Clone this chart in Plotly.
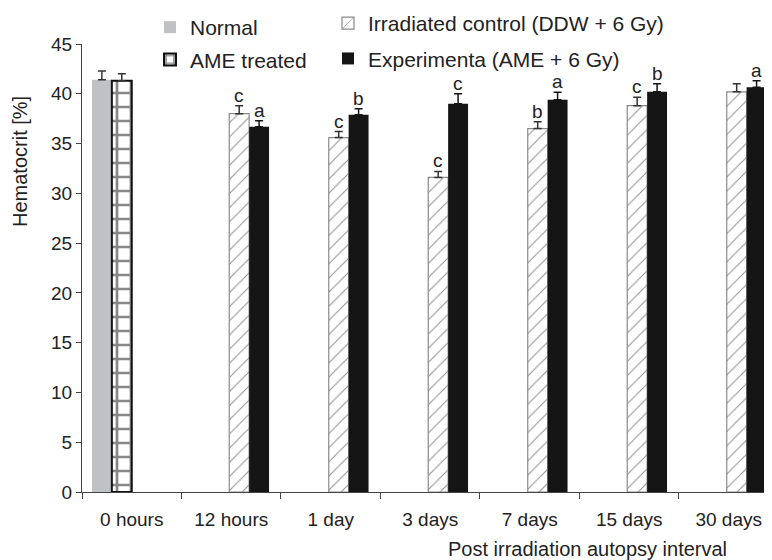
import plotly.graph_objects as go

# ---- data ----
categories = ["0 hours", "12 hours", "1 day", "3 days", "7 days", "15 days", "30 days"]

normal_x = ["0 hours"]
normal_vals = [41.4]
normal_err = [0.9]

ame_x = ["0 hours"]
ame_vals = [41.3]
ame_err = [0.7]

irr_x = ["12 hours", "1 day", "3 days", "7 days", "15 days", "30 days"]
irr_vals = [38.0, 35.6, 31.6, 36.5, 38.8, 40.2]
irr_err = [0.8, 0.6, 0.6, 0.7, 0.85, 0.8]
irr_labels = ["c", "c", "c", "b", "c", ""]

exp_x = ["12 hours", "1 day", "3 days", "7 days", "15 days", "30 days"]
exp_vals = [36.7, 37.9, 39.0, 39.4, 40.2, 40.65]
exp_err = [0.6, 0.6, 1.0, 0.75, 0.8, 0.65]
exp_labels = ["a", "b", "c", "a", "b", "a"]

y_ticks = [0, 5, 10, 15, 20, 25, 30, 35, 40, 45]

# ---- style / geometry ----
FONT = "Liberation Sans, Arial, sans-serif"
OX, OY = 8, 8                      # page body margin offset
W, H = 764, 552                    # figure size (visible window minus offset)
ML, MR, MT, MB = 74, 0, 36, 68
PLOT_W = W - ML - MR
PLOT_H = H - MT - MB
X_MIN, X_MAX = -0.5, 6.435
PX_PER_CAT = PLOT_W / (X_MAX - X_MIN)
BAR_W = 0.2
OFF = {"normal": -0.40, "ame": -0.20, "irr": -0.02, "exp": 0.18}
AXIS_COLOR = "#444444"
TEXT_COLOR = "#222222"


def px(sx):
    return (sx - OX - ML) / PLOT_W


def py(sy):
    return (H - MB - (sy - OY)) / PLOT_H


def err(arr, color):
    return dict(type="data", array=arr, arrayminus=[0] * len(arr), symmetric=False,
                color=color, thickness=1.5, width=4)


fig = go.Figure()

fig.add_trace(go.Bar(
    x=normal_x, y=normal_vals, name="Normal", width=BAR_W, offset=OFF["normal"],
    marker=dict(color="#c0c1c5", line=dict(width=0)),
    error_y=err(normal_err, "#333333"), legend="legend"))

fig.add_trace(go.Bar(
    x=ame_x, y=ame_vals, name="AME treated", width=BAR_W, offset=OFF["ame"],
    marker=dict(color="white", line=dict(color="#111111", width=2),
                pattern=dict(shape="+", fgcolor="#111111", bgcolor="white",
                             size=14, solidity=0.35)),
    error_y=err(ame_err, "#333333"), legend="legend"))

fig.add_trace(go.Bar(
    x=irr_x, y=irr_vals, name="Irradiated control (DDW + 6 Gy)", width=BAR_W,
    offset=OFF["irr"],
    marker=dict(color="white", line=dict(color="#8a8a8a", width=1.2),
                pattern=dict(shape="/", fgcolor="#222222", bgcolor="white",
                             size=10, solidity=0.1)),
    error_y=err(irr_err, "#333333"), legend="legend2"))

fig.add_trace(go.Bar(
    x=exp_x, y=exp_vals, name="Experimenta (AME + 6 Gy)", width=BAR_W, offset=OFF["exp"],
    marker=dict(color="#151515", line=dict(width=0)),
    error_y=err(exp_err, "#151515"), legend="legend2"))

# significance letters above error bars
annotations = []
for xs, vals, errs, labels, key in [
    (irr_x, irr_vals, irr_err, irr_labels, "irr"),
    (exp_x, exp_vals, exp_err, exp_labels, "exp"),
]:
    shift = (OFF[key] + BAR_W / 2) * PX_PER_CAT
    for xc, v, e, lab in zip(xs, vals, errs, labels):
        if lab:
            annotations.append(dict(
                x=xc, y=v + e, xref="x", yref="y", text=lab, showarrow=False,
                xanchor="center", yanchor="bottom", xshift=shift, yshift=-1,
                borderpad=0,
                font=dict(family=FONT, size=19, color=TEXT_COLOR)))

# axis titles
annotations.append(dict(
    x=px(20), y=py(162), xref="paper", yref="paper",
    text="Hematocrit [%]", textangle=-90, showarrow=False,
    xanchor="center", yanchor="middle",
    font=dict(family=FONT, size=20, color=TEXT_COLOR)))
annotations.append(dict(
    x=px(587), y=py(549), xref="paper", yref="paper",
    text="Post irradiation autopsy interval", showarrow=False,
    xanchor="center", yanchor="middle",
    font=dict(family=FONT, size=20, color=TEXT_COLOR)))

fig.update_layout(
    width=W, height=H,
    margin=dict(l=ML, r=MR, t=MT, b=MB, pad=0, autoexpand=False),
    paper_bgcolor="white", plot_bgcolor="white",
    font=dict(family=FONT, size=19, color=TEXT_COLOR),
    barmode="overlay",
    showlegend=True,
    legend=dict(x=px(150), y=py(7), xanchor="left", yanchor="top",
                bgcolor="rgba(0,0,0,0)", borderwidth=0,
                font=dict(family=FONT, size=21, color=TEXT_COLOR),
                tracegroupgap=2, orientation="v"),
    legend2=dict(x=px(328), y=py(3), xanchor="left", yanchor="top",
                 bgcolor="rgba(0,0,0,0)", borderwidth=0,
                 font=dict(family=FONT, size=21, color=TEXT_COLOR),
                 tracegroupgap=5, orientation="v"),
    annotations=annotations,
    xaxis=dict(
        type="category", categoryorder="array", categoryarray=categories,
        range=[X_MIN, X_MAX], showline=True, linecolor=AXIS_COLOR, linewidth=1.2,
        ticks="outside", tickson="boundaries", ticklen=6, tickcolor=AXIS_COLOR,
        tickwidth=1.2, showgrid=False, zeroline=False, ticklabelstandoff=10,
        automargin=False,
        tickfont=dict(family=FONT, size=19, color=TEXT_COLOR),
    ),
    yaxis=dict(
        range=[0, 45], tickvals=y_ticks, showline=True, linecolor=AXIS_COLOR,
        linewidth=1.2, ticks="outside", ticklen=5, tickcolor=AXIS_COLOR, tickwidth=1.2,
        showgrid=False, zeroline=False, automargin=False,
        tickfont=dict(family=FONT, size=19, color=TEXT_COLOR),
    ),
)

# each legend entry in its own group so tracegroupgap spaces the rows
for i, tr in enumerate(fig.data):
    tr.legendgroup = f"g{i}"

fig.write_html("out.html")
